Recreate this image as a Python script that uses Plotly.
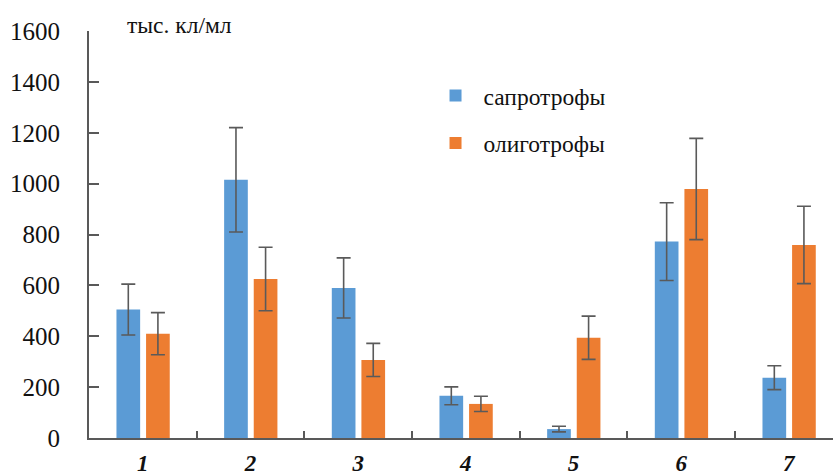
import plotly.graph_objects as go

# Sample sites
categories = ["1", "2", "3", "4", "5", "6", "7"]

# Bacterial counts, thousand cells per ml
saprotrophs = [505, 1015, 590, 166, 35, 772, 237]
saprotrophs_err = [100, 205, 118, 35, 11, 153, 47]
oligotrophs = [410, 625, 307, 134, 394, 979, 759]
oligotrophs_err = [83, 125, 65, 30, 85, 199, 152]

y_ticks = [0, 200, 400, 600, 800, 1000, 1200, 1400, 1600]

FONT = "Times New Roman"
BLUE = "#5B9BD5"
ORANGE = "#ED7D31"
AXIS = "#595959"
ERR = "#5a5a5a"

fig = go.Figure()
fig.add_trace(go.Bar(
    x=categories, y=saprotrophs, name="сапротрофы",
    marker=dict(color=BLUE, line=dict(width=0)),
    width=0.22, offset=-0.245, legendgroup="a",
    error_y=dict(type="data", array=saprotrophs_err, color=ERR, thickness=1.6, width=7),
))
fig.add_trace(go.Bar(
    x=categories, y=oligotrophs, name="олиготрофы",
    marker=dict(color=ORANGE, line=dict(width=0)),
    width=0.22, offset=0.03, legendgroup="b",
    error_y=dict(type="data", array=oligotrophs_err, color=ERR, thickness=1.6, width=7),
))

fig.update_layout(
    width=833, height=475,
    margin=dict(l=89, r=0, t=31, b=37, autoexpand=False),
    paper_bgcolor="white", plot_bgcolor="white",
    barmode="overlay",
    font=dict(family=FONT, color="#111111"),
    showlegend=True,
    legend=dict(
        x=0.455, y=0.895, xanchor="left", yanchor="top",
        font=dict(family=FONT, size=23.5, color="#111111"),
        tracegroupgap=14, itemwidth=46, bgcolor="rgba(0,0,0,0)",
    ),
    xaxis=dict(
        type="category", range=[-0.5, 6.41], automargin=False,
        showline=True, linecolor=AXIS, linewidth=2,
        ticks="inside", tickson="boundaries", ticklen=7, tickwidth=1.5, tickcolor=AXIS,
        tickfont=dict(family=FONT, size=23, color="#111111"),
        ticklabelstandoff=3,
        showgrid=False, zeroline=False, fixedrange=True,
    ),
    yaxis=dict(
        range=[0, 1600], tickvals=y_ticks, automargin=False,
        showline=True, linecolor=AXIS, linewidth=2,
        ticks="inside", ticklen=10, tickwidth=1.5, tickcolor=AXIS,
        tickfont=dict(family=FONT, size=25, color="#111111"),
        ticklabelstandoff=22,
        showgrid=False, zeroline=False,
    ),
    annotations=[dict(
        text="тыс. кл/мл", xref="paper", yref="paper",
        x=0.048, y=1.015, xanchor="left", yanchor="middle",
        showarrow=False, font=dict(family=FONT, size=23.5, color="#111111"),
    )],
)

# Bold italic site numbers
fig.update_xaxes(ticktext=[f"<b><i>{c}</i></b>" for c in categories], tickvals=categories)

fig.write_html("out.html")
